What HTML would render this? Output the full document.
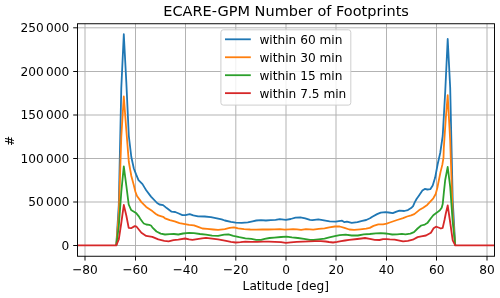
<!DOCTYPE html>
<html><head><meta charset="utf-8"><title>ECARE-GPM Number of Footprints</title>
<style>html,body{margin:0;padding:0;background:#fff;}svg{display:block;}text{font-family:"DejaVu Sans","Liberation Sans",sans-serif;fill:#000;}</style>
</head><body>
<svg width="500" height="298" viewBox="0 0 500 298">
<rect width="500" height="298" fill="#ffffff"/>
<g stroke="#b0b0b0" stroke-width="0.96" fill="none">
<line x1="85.00" y1="23.75" x2="85.00" y2="256.25"/>
<line x1="135.50" y1="23.75" x2="135.50" y2="256.25"/>
<line x1="185.50" y1="23.75" x2="185.50" y2="256.25"/>
<line x1="235.80" y1="23.75" x2="235.80" y2="256.25"/>
<line x1="286.00" y1="23.75" x2="286.00" y2="256.25"/>
<line x1="336.00" y1="23.75" x2="336.00" y2="256.25"/>
<line x1="386.50" y1="23.75" x2="386.50" y2="256.25"/>
<line x1="436.50" y1="23.75" x2="436.50" y2="256.25"/>
<line x1="487.00" y1="23.75" x2="487.00" y2="256.25"/>
<line x1="77.5" y1="245.50" x2="494.5" y2="245.50"/>
<line x1="77.5" y1="202.00" x2="494.5" y2="202.00"/>
<line x1="77.5" y1="158.50" x2="494.5" y2="158.50"/>
<line x1="77.5" y1="115.00" x2="494.5" y2="115.00"/>
<line x1="77.5" y1="71.50" x2="494.5" y2="71.50"/>
<line x1="77.5" y1="27.80" x2="494.5" y2="27.80"/>
</g>
<g stroke="#000" stroke-width="0.96" fill="none">
<line x1="85.00" y1="256.25" x2="85.00" y2="260.55"/>
<line x1="135.50" y1="256.25" x2="135.50" y2="260.55"/>
<line x1="185.50" y1="256.25" x2="185.50" y2="260.55"/>
<line x1="235.80" y1="256.25" x2="235.80" y2="260.55"/>
<line x1="286.00" y1="256.25" x2="286.00" y2="260.55"/>
<line x1="336.00" y1="256.25" x2="336.00" y2="260.55"/>
<line x1="386.50" y1="256.25" x2="386.50" y2="260.55"/>
<line x1="436.50" y1="256.25" x2="436.50" y2="260.55"/>
<line x1="487.00" y1="256.25" x2="487.00" y2="260.55"/>
<line x1="73.2" y1="245.50" x2="77.5" y2="245.50"/>
<line x1="73.2" y1="202.00" x2="77.5" y2="202.00"/>
<line x1="73.2" y1="158.50" x2="77.5" y2="158.50"/>
<line x1="73.2" y1="115.00" x2="77.5" y2="115.00"/>
<line x1="73.2" y1="71.50" x2="77.5" y2="71.50"/>
<line x1="73.2" y1="27.80" x2="77.5" y2="27.80"/>
</g>
<clipPath id="c"><rect x="77.5" y="23.75" width="417.0" height="232.5"/></clipPath>
<g clip-path="url(#c)" fill="none" stroke-width="1.8" stroke-linejoin="round" stroke-linecap="butt">
<polyline stroke="#1f77b4" points="116.27,245.45 118.78,205.00 121.29,88.00 123.80,34.20 126.31,82.00 128.82,136.00 131.33,157.00 133.84,168.50 136.10,174.40 138.50,180.10 142.50,184.10 144.90,188.10 146.20,190.20 151.00,196.60 157.10,203.00 159.50,204.50 163.10,205.10 166.70,208.10 171.60,211.70 175.20,212.00 178.80,213.50 182.40,215.10 185.40,215.10 189.70,214.10 193.30,215.40 198.10,216.40 204.80,216.50 210.90,217.10 216.90,218.30 221.70,219.40 224.80,220.50 230.90,221.90 235.70,222.60 241.70,222.90 247.80,222.30 252.60,221.30 256.20,220.50 261.00,220.10 265.90,220.50 270.70,220.20 275.50,219.80 279.80,219.20 285.90,219.80 290.70,219.00 295.50,217.70 300.40,217.40 305.20,218.30 310.00,219.80 312.40,220.20 318.35,219.40 324.00,220.40 329.60,221.40 335.60,221.70 342.10,220.70 344.50,222.20 346.90,221.70 351.70,222.90 357.40,222.10 362.20,220.90 366.20,220.00 370.00,218.30 372.30,216.70 377.10,214.10 380.70,212.60 385.50,212.20 388.60,212.50 392.80,213.20 396.50,211.60 399.50,210.60 404.30,211.00 407.90,210.10 411.10,208.10 413.10,206.10 414.70,202.40 416.70,198.80 418.70,196.00 422.40,190.60 424.80,188.90 427.30,189.50 430.30,189.20 432.70,185.40 435.15,177.60 437.70,164.00 440.20,153.00 442.70,136.00 445.20,92.00 447.70,39.00 450.20,88.00 452.70,200.00 455.25,245.45"/>
<polyline stroke="#ff7f0e" points="116.27,245.45 118.78,214.00 121.29,137.00 123.80,96.50 126.31,130.00 128.82,162.00 131.33,176.00 133.50,184.10 135.50,192.00 137.00,196.00 141.40,202.10 146.20,206.90 152.30,211.10 155.90,214.00 158.30,215.40 163.10,216.80 165.00,218.30 169.80,220.20 174.70,221.40 179.50,223.10 184.90,224.10 189.10,224.90 194.00,225.30 198.80,227.10 202.40,228.50 207.30,228.90 213.30,229.50 218.10,229.90 222.90,229.30 224.80,229.10 229.70,227.90 233.90,227.30 238.10,228.30 244.10,229.10 250.20,229.50 256.20,229.70 262.30,229.50 268.30,229.50 274.30,229.40 279.80,229.20 284.70,229.70 289.50,229.30 293.00,229.10 297.00,229.40 301.10,229.80 305.90,229.10 310.00,229.40 313.20,229.60 318.80,228.90 324.50,228.30 329.30,227.30 334.80,226.50 339.70,226.50 344.50,227.90 349.30,229.50 354.10,229.90 360.20,229.30 366.20,228.70 369.80,227.90 373.50,225.90 378.30,224.40 383.10,224.30 386.70,223.70 389.80,222.50 397.10,220.00 403.10,218.20 407.10,216.50 411.10,215.30 414.30,214.10 419.20,210.10 423.20,207.70 427.20,204.90 431.20,200.60 433.30,198.30 435.70,194.00 437.50,187.20 438.10,184.00 440.50,172.10 442.30,164.90 443.50,157.70 443.80,148.00 445.80,118.20 447.70,95.20 450.20,141.00 452.70,214.00 455.25,245.45"/>
<polyline stroke="#2ca02c" points="116.27,245.45 118.78,226.50 121.29,192.00 123.80,166.30 126.31,185.50 128.70,204.50 131.10,209.90 136.00,212.90 139.00,216.60 140.20,218.80 142.60,222.00 143.80,223.50 146.20,224.50 149.20,224.90 151.00,225.50 152.30,227.30 156.50,231.50 160.70,233.60 165.00,234.50 169.80,234.10 174.00,234.00 178.30,234.50 183.10,233.50 189.10,232.80 194.00,233.10 200.00,234.00 206.00,234.60 212.10,235.60 218.10,235.80 221.70,235.10 224.20,234.70 228.50,234.40 233.30,235.80 239.30,237.20 245.40,238.30 251.40,238.80 256.20,239.80 261.00,239.80 264.70,238.80 269.50,238.00 274.30,237.60 281.00,237.00 286.50,236.70 291.90,237.40 297.90,238.00 304.00,238.80 310.00,239.80 313.60,240.00 318.50,239.40 324.50,238.60 329.30,237.40 334.80,236.20 339.70,235.20 345.70,234.70 351.70,235.50 357.80,235.50 363.80,234.40 369.80,234.00 375.90,233.40 380.70,233.10 385.50,233.50 388.60,233.90 392.20,234.50 397.10,234.30 401.90,233.90 405.50,234.30 410.40,233.60 414.00,232.10 417.60,228.50 421.20,225.50 424.80,224.60 427.30,223.10 430.90,218.20 433.30,215.20 436.90,212.60 439.90,210.30 441.70,207.80 442.70,204.10 443.90,192.10 445.20,180.00 447.70,167.00 450.20,187.00 452.70,222.00 455.25,245.45"/>
<polyline stroke="#d62728" points="77.50,245.45 116.27,245.45 118.78,239.50 121.29,223.00 123.80,205.00 126.31,215.50 128.70,227.90 131.10,228.20 134.70,226.10 136.60,226.70 141.40,232.70 146.20,235.90 152.30,236.90 158.30,239.40 164.30,240.90 168.60,241.40 173.50,240.10 178.30,239.70 185.10,238.50 189.10,239.40 192.40,239.85 198.80,238.90 202.00,238.40 206.00,237.80 212.10,238.60 218.10,239.40 224.80,240.60 230.90,241.80 235.70,242.50 240.50,242.20 245.40,241.60 251.00,241.80 257.00,241.90 263.00,241.60 269.00,241.60 274.80,241.90 281.00,242.20 285.90,242.80 290.70,242.40 296.70,241.90 302.80,241.60 308.80,241.30 314.80,241.20 320.90,241.10 325.70,241.50 329.00,242.00 333.00,242.50 337.10,241.90 341.10,241.10 345.00,240.50 349.20,239.80 357.20,239.00 361.40,238.50 365.00,238.00 369.80,238.80 374.70,239.80 379.50,240.00 383.10,239.20 386.70,239.10 389.80,239.40 394.70,239.60 398.30,240.30 403.10,241.40 407.90,240.80 412.80,239.70 417.60,237.10 421.20,236.40 426.00,235.50 430.90,232.70 433.60,228.30 436.00,226.70 438.50,227.50 440.90,228.50 442.70,227.90 444.50,220.00 445.70,214.00 447.70,205.50 450.20,222.50 452.70,240.30 455.25,245.45 494.50,245.45"/>
</g>
<rect x="77.5" y="23.75" width="417.0" height="232.5" fill="none" stroke="#000" stroke-width="0.96"/>
<text transform="translate(85.00,274.00) scale(1.015,1.08)" font-size="12.0px" text-anchor="middle">−80</text>
<text transform="translate(135.25,274.00) scale(1.015,1.08)" font-size="12.0px" text-anchor="middle">−60</text>
<text transform="translate(185.50,274.00) scale(1.015,1.08)" font-size="12.0px" text-anchor="middle">−40</text>
<text transform="translate(235.75,274.00) scale(1.015,1.08)" font-size="12.0px" text-anchor="middle">−20</text>
<text transform="translate(286.00,274.00) scale(1.015,1.08)" font-size="12.0px" text-anchor="middle">0</text>
<text transform="translate(336.25,274.00) scale(1.015,1.08)" font-size="12.0px" text-anchor="middle">20</text>
<text transform="translate(386.50,274.00) scale(1.015,1.08)" font-size="12.0px" text-anchor="middle">40</text>
<text transform="translate(436.75,274.00) scale(1.015,1.08)" font-size="12.0px" text-anchor="middle">60</text>
<text transform="translate(487.00,274.00) scale(1.015,1.08)" font-size="12.0px" text-anchor="middle">80</text>
<text transform="translate(69.30,250.00) scale(1.015,1.08)" font-size="12.0px" text-anchor="end">0</text>
<text transform="translate(69.30,206.00) scale(1.015,1.08)" font-size="12.0px" text-anchor="end">50 000</text>
<text transform="translate(69.30,163.00) scale(1.015,1.08)" font-size="12.0px" text-anchor="end">100 000</text>
<text transform="translate(69.30,119.00) scale(1.015,1.08)" font-size="12.0px" text-anchor="end">150 000</text>
<text transform="translate(69.30,76.00) scale(1.015,1.08)" font-size="12.0px" text-anchor="end">200 000</text>
<text transform="translate(69.30,32.00) scale(1.015,1.08)" font-size="12.0px" text-anchor="end">250 000</text>
<text transform="translate(285.80,290.00) scale(1.015,1.08)" font-size="12.0px" text-anchor="middle">Latitude [deg]</text>
<text transform="translate(13.80,140.90) rotate(-90) scale(1.015,1.08)" font-size="12.0px" text-anchor="middle">#</text>
<text transform="translate(286.10,16.00) scale(1.008,1.0)" font-size="14.4px" text-anchor="middle">ECARE-GPM Number of Footprints</text>
<rect x="220.9" y="29.8" width="129.9" height="75.3" rx="2.4" ry="2.4" fill="#fff" fill-opacity="0.8" stroke="#cccccc" stroke-width="0.96"/>
<line x1="225.90" y1="39.30" x2="249.90" y2="39.30" stroke="#1f77b4" stroke-width="1.8" stroke-linecap="square"/>
<text transform="translate(259.40,44.00) scale(1.015,1.08)" font-size="12.0px" text-anchor="start">within 60 min</text>
<line x1="225.90" y1="57.25" x2="249.90" y2="57.25" stroke="#ff7f0e" stroke-width="1.8" stroke-linecap="square"/>
<text transform="translate(259.40,62.00) scale(1.015,1.08)" font-size="12.0px" text-anchor="start">within 30 min</text>
<line x1="225.90" y1="75.20" x2="249.90" y2="75.20" stroke="#2ca02c" stroke-width="1.8" stroke-linecap="square"/>
<text transform="translate(259.40,80.00) scale(1.015,1.08)" font-size="12.0px" text-anchor="start">within 15 min</text>
<line x1="225.90" y1="93.15" x2="249.90" y2="93.15" stroke="#d62728" stroke-width="1.8" stroke-linecap="square"/>
<text transform="translate(259.40,98.00) scale(1.015,1.08)" font-size="12.0px" text-anchor="start">within 7.5 min</text>
</svg>
</body></html>
